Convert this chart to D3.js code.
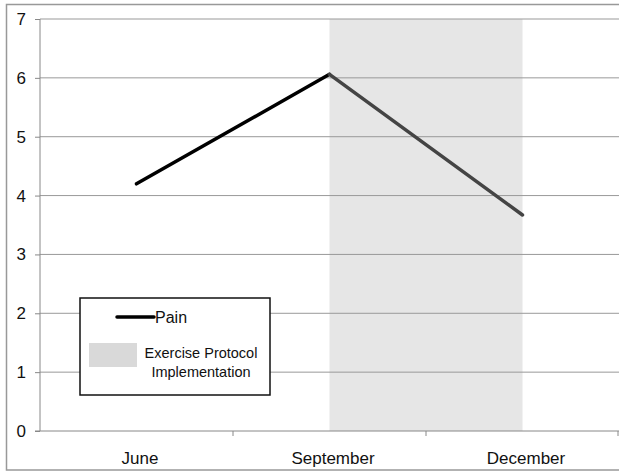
<!DOCTYPE html>
<html>
<head>
<meta charset="utf-8">
<script src="https://cdn.jsdelivr.net/npm/d3@7"></script>
<style>
  html, body { margin: 0; padding: 0; background: #fff; }
  svg { display: block; font-family: "Liberation Sans", Arial, Helvetica, sans-serif; }
</style>
</head>
<body>
<svg id="chart" width="619" height="474"></svg>
<script>
// Pain score by month, with the exercise protocol period shaded
const months = ["June", "September", "December"];
const pain = [4.2, 6.06, 3.67];
const yTicks = [0, 1, 2, 3, 4, 5, 6, 7];
const protocolSpan = ["September", "December"];
const legendItems = ["Pain", "Exercise Protocol Implementation"];

const svg = d3.select("#chart");
const plotLeft = 40, plotRight = 619, plotTop = 19, plotBottom = 431;

const x = d3.scaleBand().domain(months).range([plotLeft, plotRight]);
const y = d3.scaleLinear().domain([0, 7]).range([plotBottom, plotTop]);
const cx = m => x(m) + x.bandwidth() / 2;

// outer frame
svg.append("rect")
  .attr("x", 6.5).attr("y", 4.5).attr("width", 640).attr("height", 465.5)
  .attr("fill", "none").attr("stroke", "#999").attr("stroke-width", 1.5);

// shaded protocol period
svg.append("rect")
  .attr("x", cx(protocolSpan[0]))
  .attr("y", y(7))
  .attr("width", cx(protocolSpan[1]) - cx(protocolSpan[0]))
  .attr("height", y(0) - y(7))
  .attr("fill", "#e6e6e6");

// horizontal gridlines
svg.append("g").selectAll("line").data(yTicks.filter(d => d > 0)).join("line")
  .attr("x1", plotLeft).attr("x2", plotRight)
  .attr("y1", d => y(d)).attr("y2", d => y(d))
  .attr("stroke", "#999").attr("stroke-width", 1);

// y axis
const yAxis = svg.append("g")
  .attr("transform", `translate(${plotLeft},0)`)
  .call(d3.axisLeft(y).tickValues(yTicks).tickSize(5).tickPadding(9).tickFormat(d3.format("d")));
yAxis.selectAll("path, line").attr("stroke", "#888");
yAxis.select(".domain").attr("d", `M0,${y(7)}V${y(0)}`);
yAxis.selectAll("text").attr("font-size", 17).attr("fill", "#111")
  .attr("font-family", "Liberation Sans, Arial, sans-serif");

// x axis with ticks on category boundaries
const xAxisG = svg.append("g").attr("transform", `translate(0,${plotBottom})`);
xAxisG.append("line").attr("x1", plotLeft - 5).attr("x2", plotRight)
  .attr("stroke", "#888").attr("stroke-width", 1);
const boundaries = months.map(m => x(m)).concat([x(months[months.length - 1]) + x.bandwidth()]);
xAxisG.selectAll(".tk").data(boundaries.slice(1)).join("line")
  .attr("class", "tk")
  .attr("x1", d => Math.min(d, plotRight - 1)).attr("x2", d => Math.min(d, plotRight - 1))
  .attr("y1", 0).attr("y2", 5)
  .attr("stroke", "#888");
xAxisG.selectAll("text").data(months).join("text")
  .attr("x", d => cx(d) + 3.5).attr("y", 33)
  .attr("text-anchor", "middle").attr("font-size", 17).attr("fill", "#111")
  .text(d => d);

// pain line: black before the protocol, dark grey during it
const pts = months.map((m, i) => [cx(m), y(pain[i])]);
svg.append("line")
  .attr("x1", pts[0][0]).attr("y1", pts[0][1]).attr("x2", pts[1][0]).attr("y2", pts[1][1])
  .attr("stroke", "#000").attr("stroke-width", 3.5).attr("stroke-linecap", "round");
svg.append("line")
  .attr("x1", pts[1][0]).attr("y1", pts[1][1]).attr("x2", pts[2][0]).attr("y2", pts[2][1])
  .attr("stroke", "#444").attr("stroke-width", 3.5).attr("stroke-linecap", "round");

// legend
const lg = svg.append("g");
lg.append("rect").attr("x", 80).attr("y", 298).attr("width", 190).attr("height", 97)
  .attr("fill", "#fff").attr("stroke", "#111").attr("stroke-width", 1.5);
lg.append("line").attr("x1", 117).attr("x2", 154).attr("y1", 317).attr("y2", 317)
  .attr("stroke", "#000").attr("stroke-width", 3.5).attr("stroke-linecap", "round");
lg.append("text").attr("x", 155).attr("y", 322.5).attr("font-size", 16).attr("fill", "#111")
  .text(legendItems[0]);
lg.append("rect").attr("x", 89).attr("y", 343).attr("width", 48).attr("height", 24)
  .attr("fill", "#d9d9d9");
const words = legendItems[1].split(" ");
const lt = lg.append("text").attr("text-anchor", "middle").attr("font-size", 14.5).attr("fill", "#111");
lt.append("tspan").attr("x", 201).attr("y", 358).text(words.slice(0, 2).join(" "));
lt.append("tspan").attr("x", 201).attr("y", 377).text(words.slice(2).join(" "));
</script>
</body>
</html>
